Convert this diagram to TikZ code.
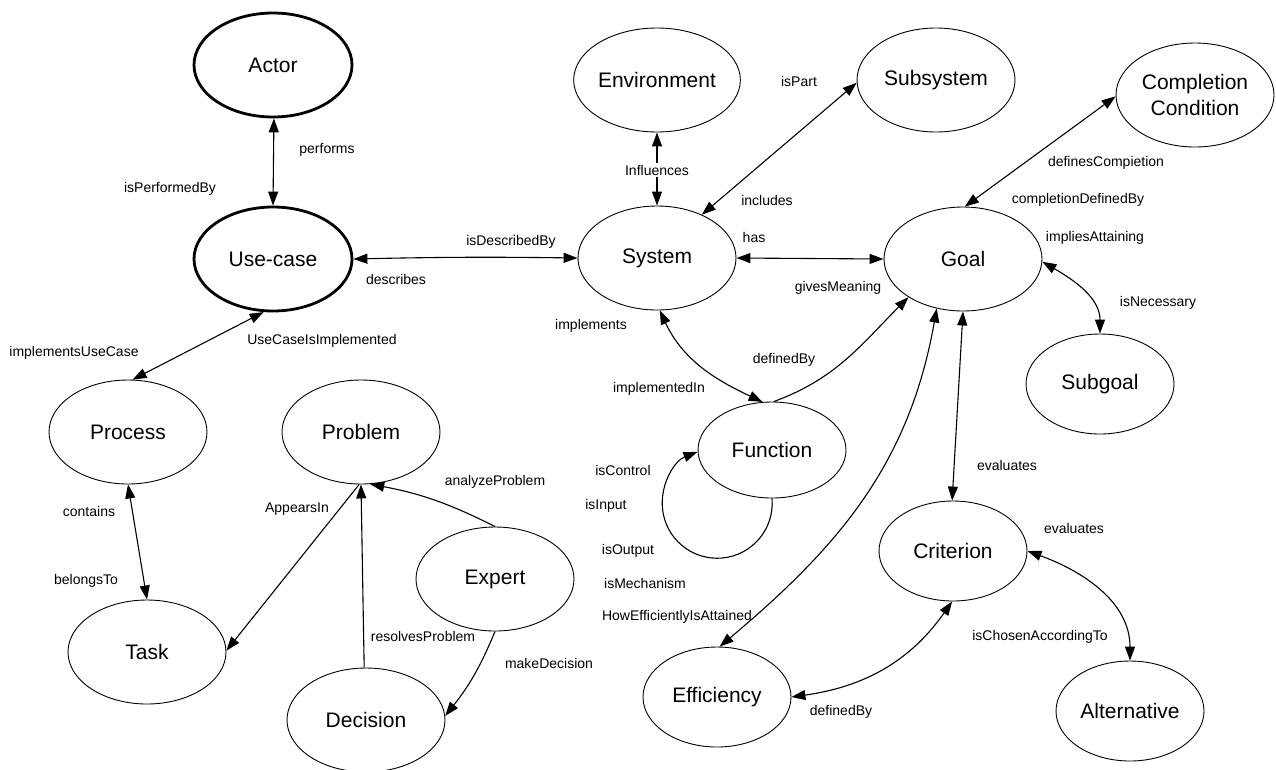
\documentclass[tikz,border=0pt]{standalone}
\usepackage{fontspec}
\setmainfont{Liberation Sans}
\usetikzlibrary{shapes.geometric,arrows.meta}
\begin{document}
\begin{tikzpicture}[x=1pt,y=1pt,
  ent/.style={ellipse,draw,line width=0.9pt,minimum width=158pt,minimum height=104pt,inner sep=0pt,font=\fontsize{21}{26}\selectfont,align=center},
  entsm/.style={ent,minimum width=148pt,minimum height=100pt},
  boldent/.style={ent,line width=2.8pt},
  lbl/.style={font=\fontsize{14}{16}\selectfont,inner sep=1pt},
  rel/.style={line width=1.1pt,-{Triangle[length=14pt,width=10pt]}},
  birel/.style={line width=1.1pt,{Triangle[length=14pt,width=10pt]}-{Triangle[length=14pt,width=10pt]}},
]
\useasboundingbox (0,0) rectangle (1276,-769);

% entities
\node[boldent] (Actor) at (273,-65) {Actor};
\node[boldent] (Usecase) at (273,-259) {Use-case};
\node[ent] (Environment) at (657,-80) {Environment};
\node[ent] (Subsystem) at (936,-80) {Subsystem};
\node[ent] (CC) at (1195,-95) {Completion\\Condition};
\node[ent] (System) at (657,-258) {System};
\node[ent] (Goal) at (963,-259) {Goal};
\node[entsm] (Subgoal) at (1100,-384) {Subgoal};
\node[ent] (Process) at (128,-432) {Process};
\node[ent] (Problem) at (361,-432) {Problem};
\node[entsm,minimum height=96pt] (Function) at (772,-450) {Function};
\node[entsm] (Criterion) at (953,-551) {Criterion};
\node[ent] (Expert) at (495,-579) {Expert};
\node[ent] (Task) at (147,-652) {Task};
\node[ent] (Decision) at (366,-720) {Decision};
\node[entsm] (Efficiency) at (717,-697) {Efficiency};
\node[entsm] (Alternative) at (1130,-711) {Alternative};

% labels
\node[lbl] (lPerforms) at (327,-150) {performs};
\node[lbl] (lIsPerformedBy) at (170,-189) {isPerformedBy};
\node[lbl] (lIsDescribedBy) at (511,-242) {isDescribedBy};
\node[lbl] (lDescribes) at (396,-279) {describes};
\node[lbl,inner sep=2pt] (lInfluences) at (657,-170) {Influences};
\node[lbl] (lIsPart) at (799,-81) {isPart};
\node[lbl] (lIncludes) at (767,-200) {includes};
\node[lbl] (lHas) at (754,-237) {has};
\node[lbl] (lGivesMeaning) at (838,-288) {givesMeaning};
\node[lbl] (lDefinesCompietion) at (1106,-163) {definesCompietion};
\node[lbl] (lCompletionDefinedBy) at (1078,-200) {completionDefinedBy};
\node[lbl] (lImpliesAttaining) at (1095,-238) {impliesAttaining};
\node[lbl] (lIsNecessary) at (1158,-303) {isNecessary};
\node[lbl] (lImplements) at (591,-326) {implements};
\node[lbl] (lImplementedIn) at (659,-389) {implementedIn};
\node[lbl] (lDefinedByA) at (784,-360) {definedBy};
\node[lbl] (lIsControl) at (623,-470) {isControl};
\node[lbl] (lIsInput) at (606,-506) {isInput};
\node[lbl] (lIsOutput) at (628,-551) {isOutput};
\node[lbl] (lIsMechanism) at (645,-583) {isMechanism};
\node[lbl] (lHowEff) at (677,-617) {HowEfficientlyIsAttained};
\node[lbl] (lEvaluatesA) at (1007,-465) {evaluates};
\node[lbl] (lDefinedByB) at (841,-712) {definedBy};
\node[lbl] (lEvaluatesB) at (1074,-528) {evaluates};
\node[lbl] (lIsChosen) at (1040,-637) {isChosenAccordingTo};
\node[lbl] (lImplUC) at (74,-353) {implementsUseCase};
\node[lbl] (lUCImpl) at (322,-341) {UseCaseIsImplemented};
\node[lbl] (lContains) at (89,-511) {contains};
\node[lbl] (lBelongsTo) at (86,-581) {belongsTo};
\node[lbl] (lAppearsIn) at (297,-509) {AppearsIn};
\node[lbl] (lResolves) at (423,-636) {resolvesProblem};
\node[lbl] (lAnalyze) at (495,-482) {analyzeProblem};
\node[lbl] (lMakeDecision) at (549,-663) {makeDecision};

% connectors
\draw[birel] (Actor.-89) -- (Usecase.90);
\draw[birel] (Usecase.east) to[bend left=1] (System.west);
\draw[rel] (lInfluences) -- (Environment.south);
\draw[rel] (lInfluences) -- (System.north);
\draw[birel] (System.44) -- (Subsystem.182);
\draw[birel] (System.east) -- (Goal.west);
\draw[birel] (Goal.88) -- (CC.181);
\draw[birel] (Goal.-2) to[out=-30,in=90] (Subgoal.90);
\draw[birel] (System.-87) to[out=-65,in=155] (Function.101);
\draw[rel] (Function.88) to[out=20,in=225] (Goal.215);
\draw[rel] (Function.-90) arc[start angle=5,end angle=-249,radius=55];
\draw[birel] (Goal.-118) to[out=-100,in=40] (Efficiency.87);
\draw[birel] (Goal.-90) -- (Criterion.91);
\draw[birel] (Efficiency.0) to[out=8,in=-125] (Criterion.-91);
\draw[birel] (Criterion.0) to[out=-20,in=90] (Alternative.90);
\draw[birel] (Usecase.-100) -- (Process.85);
\draw[birel] (Process.-90) -- (Task.90);
\draw[rel] (Problem.-92) -- (Task.1);
\draw[rel] (Decision.92) -- (Problem.-90);
\draw[rel] (Expert.90) to[bend right=8] (Problem.-80);
\draw[rel] (Expert.-90) to[bend left=8] (Decision.3);
\end{tikzpicture}
\end{document}
